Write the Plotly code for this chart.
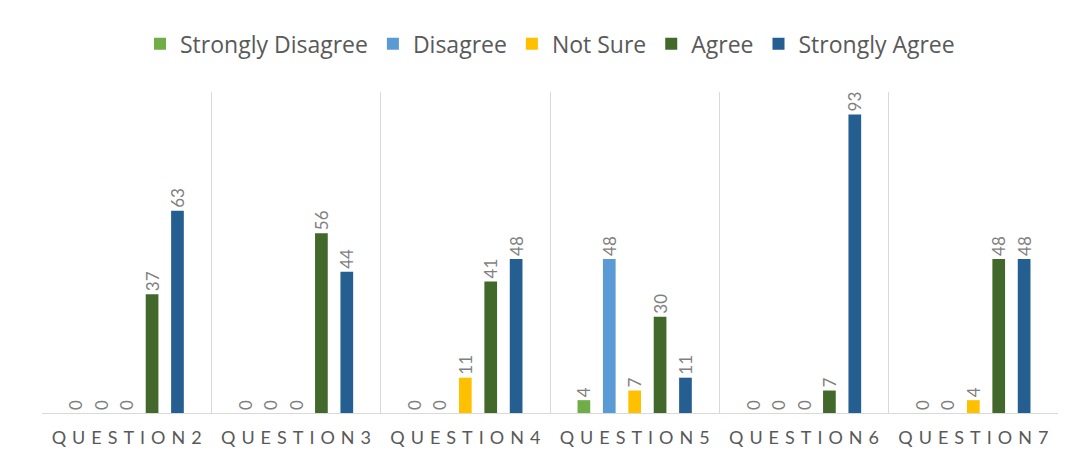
import plotly.graph_objects as go

categories = ["QUESTION2", "QUESTION3", "QUESTION4", "QUESTION5", "QUESTION6", "QUESTION7"]
series_names = ["Strongly Disagree", "Disagree", "Not Sure", "Agree", "Strongly Agree"]
strongly_disagree = [0, 0, 0, 4, 0, 0]
disagree = [0, 0, 0, 48, 0, 0]
not_sure = [0, 0, 11, 7, 0, 4]
agree = [37, 56, 41, 30, 7, 48]
strongly_agree = [63, 44, 48, 11, 93, 48]
colors = ["#70AD47", "#5B9BD5", "#FFC000", "#43682B", "#255E91"]

series_values = [strongly_disagree, disagree, not_sure, agree, strongly_agree]

sp = "\u2004"
tick_text = [sp.join(list(c)) for c in categories]

fig = go.Figure()
for name, vals, col in zip(series_names, series_values, colors):
    fig.add_trace(go.Bar(
        name=name, x=categories, y=vals,
        marker=dict(color=col, line=dict(width=0)),
        text=[str(v) for v in vals], textposition="outside", textangle=-90,
        textfont=dict(family="Lato", size=17, color="#7F7F7F"),
        constraintext="none", cliponaxis=False,
    ))

fig.update_layout(
    width=1057, height=443,
    margin=dict(l=34, r=7, t=84, b=38),
    paper_bgcolor="white", plot_bgcolor="white",
    barmode="group", bargap=0.25, bargroupgap=0.5,
    font=dict(family="Lato", color="#595959"),
    legend=dict(orientation="h", x=0.5, xanchor="center", y=1.15, yanchor="middle",
                font=dict(family="Open Sans", size=23, color="#595959"), itemwidth=30),
    showlegend=True,
)
fig.update_xaxes(
    tickmode="array", tickvals=categories, ticktext=tick_text,
    tickson="boundaries", showgrid=True, gridcolor="#D9D9D9", gridwidth=1,
    showline=True, linecolor="#D9D9D9", ticks="", tickangle=0, automargin=False,
    tickfont=dict(size=18, color="#595959"), ticklabelstandoff=8,
)
fig.update_yaxes(range=[0, 100], visible=False, showgrid=False, automargin=False)

fig.write_html("out.html")
